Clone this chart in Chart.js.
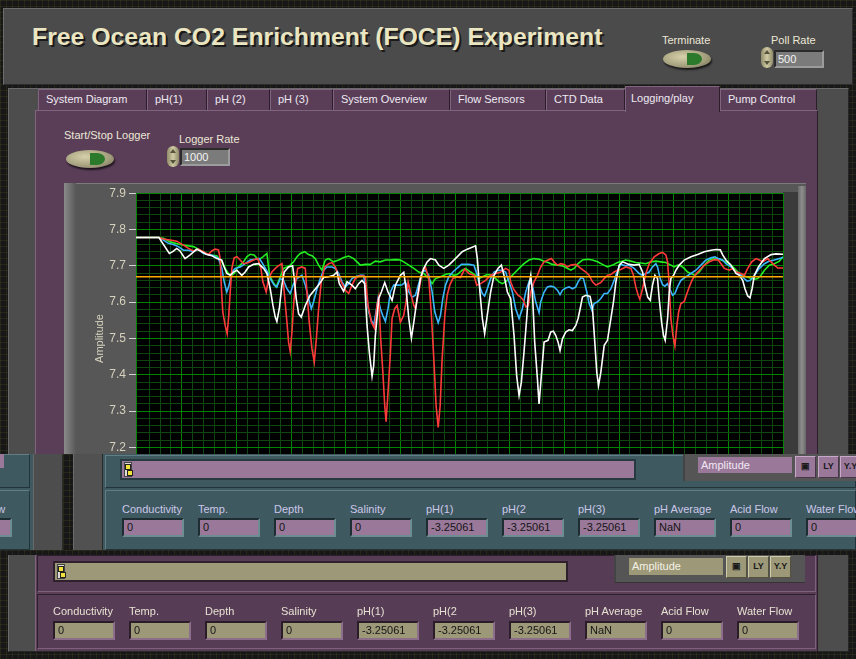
<!DOCTYPE html>
<html><head><meta charset="utf-8">
<script src="https://cdn.jsdelivr.net/npm/chart.js@4.4.0/dist/chart.umd.min.js"></script>
<style>
html,body{margin:0;padding:0;}
body{width:856px;height:659px;position:relative;overflow:hidden;background-color:#171717;
 background-image:linear-gradient(rgba(90,90,40,0.22) 1px,transparent 1px),linear-gradient(90deg,rgba(90,90,40,0.22) 1px,transparent 1px);
 background-size:6px 6px;font-family:"Liberation Sans",Arial,sans-serif;}
.a{position:absolute;box-sizing:border-box;}
.dk{position:absolute;box-sizing:border-box;background-color:#171717;
 background-image:linear-gradient(rgba(90,90,40,0.22) 1px,transparent 1px),linear-gradient(90deg,rgba(90,90,40,0.22) 1px,transparent 1px);background-size:6px 6px;}
.lbl{position:absolute;font-size:11px;line-height:13px;white-space:nowrap;}
.tab{position:absolute;box-sizing:border-box;top:89px;height:21px;background:#5a3e58;border-top:1px solid #80637e;border-left:1px solid #80637e;border-right:1px solid #2c1d2b;color:#eeeaf2;font-size:11px;line-height:19px;padding-left:7px;white-space:nowrap;}
.btn{position:absolute;width:48px;height:18px;border-radius:50%;background:radial-gradient(ellipse at 40% 38%,#d6d1aa,#a29d7b 60%,#66634a);box-shadow:1px 2px 2px rgba(0,0,0,.7);}
.btn i{position:absolute;left:24px;top:3px;width:15px;height:12px;border-radius:0 8px 8px 0/0 6px 6px 0;background:#2b7a2b;}
.spin{position:absolute;width:12px;height:21px;border-radius:6px;background:linear-gradient(90deg,#8f8a68,#d0cba4 50%,#8f8a68);}
.spin:before{content:"";position:absolute;left:3px;top:3px;border-left:3px solid transparent;border-right:3px solid transparent;border-bottom:4px solid #55523c;}
.spin:after{content:"";position:absolute;left:3px;bottom:3px;border-left:3px solid transparent;border-right:3px solid transparent;border-top:4px solid #55523c;}
.num{position:absolute;box-sizing:border-box;height:18px;background:#7b7b7b;border:2px solid;border-color:#2a2a2a #9c9c9c #9c9c9c #2a2a2a;color:#f3f3f3;font-size:11px;line-height:14px;padding-left:2px;}
.tf{position:absolute;box-sizing:border-box;height:19px;width:62px;background:#9a789a;border:2px solid;border-color:#1e2d31 #6d8d93 #6d8d93 #1e2d31;color:#151515;font-size:11px;line-height:15px;padding-left:3px;white-space:nowrap;overflow:hidden;}
.of{position:absolute;box-sizing:border-box;height:19px;width:62px;background:#9c9878;border:2px solid;border-color:#2a1c29 #8c6e8a #8c6e8a #2a1c29;color:#151515;font-size:11px;line-height:15px;padding-left:3px;white-space:nowrap;overflow:hidden;}
.tbox{position:absolute;box-sizing:border-box;background:#3e5a60;border:1px solid;border-color:#607e84 #22343a #22343a #607e84;}
.pbox{position:absolute;box-sizing:border-box;background:#573c55;border:1px solid;border-color:#2e1f2d #7e617c #7e617c #2e1f2d;}
.ico{position:absolute;box-sizing:border-box;width:21px;height:22px;border:1px solid;font-size:9px;font-weight:bold;line-height:18px;text-align:center;color:#1a1a1a;}
.thumb{position:absolute;width:8px;height:15px;background:#dcdcd2;border:1px solid #444;box-sizing:border-box;}
.thumb:before{content:"";position:absolute;left:0;top:1px;width:4px;height:4px;border:1px solid #222;background:#f2e23a;}
.thumb:after{content:"";position:absolute;left:2px;top:7px;width:4px;height:4px;border:1px solid #222;background:#f2e23a;}
</style></head>
<body>
<!-- header -->
<div class="a" style="left:3px;top:8px;width:850px;height:77px;background:#4b4b4b;border:1px solid;border-color:#6c6c6c #2c2c2c #2c2c2c #6c6c6c"></div>
<div class="a" style="left:32px;top:24px;font-weight:bold;font-size:24.8px;line-height:25px;color:#ebe6c2;text-shadow:2px 2px 0 #1a1a1a;white-space:nowrap">Free Ocean CO2 Enrichment (FOCE) Experiment</div>
<div class="lbl" style="left:662px;top:34px;color:#ebe7d5">Terminate</div>
<div class="btn" style="left:663px;top:50px"><i></i></div>
<div class="lbl" style="left:771px;top:34px;color:#ebe7d5">Poll Rate</div>
<div class="spin" style="left:761px;top:47px"></div>
<div class="num" style="left:774px;top:50px;width:50px">500</div>

<!-- tab control -->
<div class="a" style="left:8px;top:88px;width:841px;height:564px;background:#4d4d4d;border:1px solid;border-color:#6a6a6a #262626 #262626 #6a6a6a"></div>
<div id="tabs"></div>
<div class="a" style="left:35px;top:110px;width:783px;height:541px;background:#5a3e58;border-left:1px solid #80637e;border-top:1px solid #80637e;border-right:1px solid #2c1d2b"></div>
<div class="a" style="left:625px;top:86px;width:95px;height:26px;background:#5a3e58;border-top:1px solid #80637e;border-left:1px solid #80637e;border-right:1px solid #2c1d2b;color:#eeeaf2;font-size:11px;line-height:22px;padding-left:5px;white-space:nowrap">Logging/play</div>

<div class="lbl" style="left:64px;top:129px;color:#ebe7d5">Start/Stop Logger</div>
<div class="btn" style="left:66px;top:150px"><i></i></div>
<div class="lbl" style="left:179px;top:133px;color:#ebe7d5">Logger Rate</div>
<div class="spin" style="left:167px;top:146px"></div>
<div class="num" style="left:180px;top:148px;width:50px">1000</div>

<!-- graph frame -->
<div class="a" style="left:64px;top:183px;width:742px;height:315px;background:#575757;border-top:1px solid #7a7a7a"></div>
<div class="a" style="left:64px;top:183px;width:12px;height:315px;background:linear-gradient(90deg,#8a8a8a,#575757)"></div>
<div class="a" style="left:783px;top:192px;width:15px;height:305px;background:#3b3b3b"></div>
<div class="a" style="left:798px;top:186px;width:8px;height:311px;background:linear-gradient(90deg,#6a6a6a,#8e8e8e,#666)"></div>
<div class="a" style="left:64px;top:183px;width:720px;height:311px"><canvas id="c" width="720" height="311" style="width:720px;height:311px"></canvas></div>

<!-- overlapping copy (teal) -->
<div class="a" style="left:0;top:454px;width:33px;height:96px;background:#3e5a60;overflow:hidden">
  <div class="tbox" style="left:-40px;top:0;width:70px;height:34px"></div>
  <div class="a" style="left:0;top:0;width:4px;height:14px;background:#9a789a"></div>
  <div class="tbox" style="left:-40px;top:36px;width:70px;height:60px"></div>
  <div class="lbl" style="left:-50px;top:49px;color:#cdc6ea">Water Flow</div>
  <div class="tf" style="left:-50px;top:64px">0</div>
</div>
<div class="a" style="left:33px;top:454px;width:30px;height:96px;background:#4d4d4d;border-left:1px solid #6a6a6a;border-right:1px solid #2a2a2a"></div>
<div class="dk" style="left:63px;top:454px;width:10px;height:96px"></div>
<div class="a" style="left:73px;top:454px;width:30px;height:96px;background:#515151;border-left:1px solid #6a6a6a;border-right:1px solid #2a2a2a"></div>
<div class="a" style="left:103px;top:454px;width:753px;height:96px;background:#3e5a60"></div>
<div class="tbox" style="left:105px;top:455px;width:751px;height:33px"></div>
<div class="a" style="left:120px;top:459px;width:516px;height:21px;background:#263a3f"></div>
<div class="a" style="left:122px;top:461px;width:512px;height:17px;background:#9a789a"></div>
<div class="thumb" style="left:124px;top:462px"></div>
<div class="a" style="left:683px;top:454px;width:173px;height:27px;background:#555;border-left:2px solid #444"></div>
<div class="a" style="left:698px;top:457px;width:94px;height:16px;background:#9a789a;color:#f0e8f2;font-size:11px;line-height:16px;padding-left:3px">Amplitude</div>
<div class="ico" style="left:795px;top:456px;background:#9a789a;border-color:#c8a8c8 #4a344a #4a344a #c8a8c8">&#9635;</div>
<div class="ico" style="left:818px;top:456px;background:#9a789a;border-color:#c8a8c8 #4a344a #4a344a #c8a8c8">LY</div>
<div class="ico" style="left:840px;top:456px;background:#9a789a;border-color:#c8a8c8 #4a344a #4a344a #c8a8c8">Y.Y</div>
<div class="tbox" style="left:105px;top:490px;width:751px;height:60px"></div>
<div id="rowTop"></div>

<!-- dark gap -->
<div class="dk" style="left:0;top:550px;width:856px;height:5px"></div>

<!-- original bottom -->
<div class="pbox" style="left:37px;top:555px;width:779px;height:37px"></div>
<div class="a" style="left:53px;top:561px;width:515px;height:21px;background:#2e202d"></div>
<div class="a" style="left:55px;top:563px;width:511px;height:17px;background:#9c9878"></div>
<div class="thumb" style="left:57px;top:564px"></div>
<div class="a" style="left:614px;top:555px;width:191px;height:28px;background:#555;border-left:2px solid #444;border-bottom:1px solid #333"></div>
<div class="a" style="left:629px;top:558px;width:94px;height:17px;background:#9c9878;color:#f4f2e6;font-size:11px;line-height:17px;padding-left:3px">Amplitude</div>
<div class="ico" style="left:726px;top:556px;background:#9c9878;border-color:#cfcbaa #55523c #55523c #cfcbaa">&#9635;</div>
<div class="ico" style="left:748px;top:556px;background:#9c9878;border-color:#cfcbaa #55523c #55523c #cfcbaa">LY</div>
<div class="ico" style="left:770px;top:556px;background:#9c9878;border-color:#cfcbaa #55523c #55523c #cfcbaa">Y.Y</div>
<div class="pbox" style="left:37px;top:594px;width:779px;height:55px"></div>
<div id="rowBot"></div>

<script>
// ---------- chart data ----------
const whiteX = [8,29,38.5,41.6,45.3,48.3,52.9,57.5,63.6,68.2,
 72.8,77.3,81.9,86.5,88.7,91.1,94.2,97.2,100.3,104.8,
 107.9,111,115.5,120.1,124.7,127.8,130.8,133.3,135.4,136.9,
 139.1,141.5,143.6,147.6,151.3,152.8,154.6,156.8,159.2,162.9,
 167.4,175.1,179.7,184.3,188.8,191.9,194,198,201.1,205.6,
 208.7,211.7,214.8,217.2,219.4,221.5,224,225.5,227,230.1,
 232.5,235.6,238.6,242.3,245.4,249.9,253,255.1,257.6,260,
 262.2,265.2,268.3,271.3,274.4,277.4,282,285.1,289.6,294.2,
 300.3,306.5,311.1,318.7,320.3,322.7,324.9,327,329.4,332.5,
 335.6,339.2,342.3,344.7,347.8,350.8,353.9,356.3,358.5,360.6,
 363,365.5,367.6,369.2,370.7,372.8,375.3,376.8,378.9,381.4,
 385,387.5,389.9,392.1,394.2,396,398.2,401.2,404.3,407.3,
 410.4,412.5,414.4,416.5,419.6,423.5,425.7,427.8,429.6,431.2,
 433.3,436.4,439.4,442.5,444.9,447.1,450.1,453.2,459.2,463.8,
 468.4,471.5,473.6,476.2,478.5,480.6,482.8,485.2,486.7,488.9,
 490.7,492.2,494.4,495.9,497.4,499.9,502,505.1,509.6,515.8,
 521.9,528,534.1,538.7,542.6,544.8,547.8,552.4,557,560.1,
 563.1,565.2,567.7,569.8,571.7,573.8,577.5,583,589.1,593.7,
 600];
const whiteY = [7.778,7.778,7.734,7.739,7.748,7.741,7.720,7.730,7.746,7.739,
 7.731,7.728,7.720,7.716,7.697,7.679,7.674,7.683,7.688,7.674,
 7.683,7.697,7.704,7.706,7.693,7.679,7.637,7.591,7.559,7.547,
 7.582,7.647,7.683,7.697,7.700,7.665,7.610,7.568,7.559,7.591,
 7.619,7.647,7.668,7.670,7.674,7.683,7.651,7.630,7.656,7.647,
 7.637,7.651,7.660,7.651,7.536,7.462,7.396,7.426,7.508,7.610,
 7.628,7.654,7.628,7.605,7.647,7.674,7.682,7.637,7.555,7.501,
 7.545,7.610,7.665,7.693,7.711,7.720,7.716,7.702,7.693,7.702,
 7.720,7.739,7.746,7.755,7.720,7.628,7.555,7.513,7.564,7.628,
 7.674,7.693,7.702,7.674,7.628,7.610,7.508,7.398,7.343,7.380,
 7.462,7.555,7.647,7.674,7.628,7.490,7.389,7.320,7.398,7.490,
 7.495,7.518,7.520,7.508,7.490,7.467,7.499,7.518,7.524,7.522,
 7.536,7.555,7.582,7.614,7.619,7.616,7.582,7.490,7.407,7.370,
 7.407,7.481,7.495,7.555,7.601,7.656,7.702,7.711,7.704,7.702,
 7.704,7.683,7.647,7.614,7.605,7.647,7.674,7.665,7.610,7.545,
 7.508,7.495,7.555,7.628,7.665,7.674,7.688,7.702,7.716,7.725,
 7.731,7.739,7.743,7.745,7.744,7.730,7.716,7.702,7.679,7.674,
 7.660,7.637,7.617,7.612,7.637,7.674,7.697,7.720,7.731,7.733,
 7.732];

const redX = [8,29,33.1,39.2,45.3,51.4,56,60.5,65.1,69.7,
 74.3,77.3,80.4,83.5,85,86.2,87.4,89.6,91.4,92.9,
 94.2,95.7,97.8,100.3,103.3,106.4,111,115.5,119.5,122.3,
 124.1,127.1,129.3,132.3,136.9,141.5,143.6,146.1,147.6,149.1,
 150.7,152.2,153.7,155.9,159.8,162.9,164.4,166.5,169,171.1,
 173,175.1,177.5,180.6,184.3,187.3,190.4,193.4,196.5,199.5,
 202.6,205.6,208.7,211.7,216.3,217.9,220.3,223.4,226.4,228.5,
 230.1,231.9,233.7,235.6,236.8,238.6,240.8,242.3,244.7,246.9,
 249.9,253,255.1,257,259.1,262.2,263.7,266.7,269.8,272.8,
 275.9,278.3,280.5,282.6,284.5,286.3,288.1,290.6,292.7,295.1,
 297.9,301.9,304.9,308.7,312.6,317.2,319.7,323.3,327.9,332.5,
 337.1,341.7,346.2,349.3,350.8,353.3,355.4,357.5,360,362.4,
 364.6,367,369.2,372.2,375.3,378.3,381.4,385,388.1,390.5,
 393.6,396.7,399.7,402.8,405.8,410.4,415,419.6,422.6,425.7,
 428.7,433.3,436.4,439.4,442.5,445.5,448.6,451.6,456.2,460.8,
 463.2,465.3,467.5,469,471.5,474.5,477.6,482.2,486.7,489.8,
 492.8,494.4,495.9,497.4,499.3,501.1,502.9,504.5,506.6,509.6,
 512.1,514.2,516.7,519.4,523.4,528,532.6,537.1,540.8,543.3,
 546.3,550.9,553.9,557,561.6,564.6,567.7,571.4,575.3,578.4,
 581.4,586,590.6,595.2,600];
const redY = [7.778,7.778,7.774,7.771,7.768,7.757,7.748,7.741,7.746,7.739,
 7.731,7.741,7.746,7.744,7.720,7.637,7.573,7.536,7.513,7.564,
 7.628,7.693,7.722,7.725,7.716,7.706,7.709,7.716,7.720,7.693,
 7.656,7.628,7.665,7.683,7.697,7.706,7.628,7.545,7.490,7.464,
 7.518,7.591,7.647,7.693,7.697,7.693,7.628,7.545,7.472,7.435,
 7.499,7.582,7.656,7.697,7.706,7.709,7.697,7.670,7.651,7.633,
 7.624,7.647,7.665,7.672,7.672,7.670,7.591,7.545,7.527,7.591,
 7.614,7.499,7.416,7.315,7.271,7.352,7.462,7.555,7.582,7.591,
 7.545,7.564,7.601,7.656,7.628,7.591,7.582,7.628,7.683,7.697,
 7.665,7.564,7.444,7.315,7.255,7.315,7.444,7.564,7.619,7.647,
 7.665,7.670,7.668,7.691,7.679,7.674,7.647,7.651,7.660,7.674,
 7.679,7.683,7.693,7.688,7.656,7.637,7.628,7.619,7.614,7.605,
 7.587,7.591,7.628,7.656,7.674,7.697,7.711,7.716,7.720,7.711,
 7.702,7.706,7.704,7.697,7.702,7.704,7.693,7.683,7.674,7.656,
 7.647,7.654,7.665,7.674,7.676,7.683,7.688,7.690,7.697,7.693,
 7.674,7.642,7.619,7.608,7.637,7.679,7.706,7.725,7.734,7.737,
 7.730,7.711,7.647,7.555,7.508,7.479,7.536,7.573,7.596,7.601,
 7.624,7.642,7.660,7.674,7.688,7.702,7.711,7.717,7.716,7.706,
 7.693,7.688,7.693,7.683,7.679,7.674,7.693,7.711,7.720,7.716,
 7.711,7.720,7.706,7.694,7.694];

const blueX = [8,29,33.1,37.6,42.2,46.8,51.4,56,60.5,65.1,
 69.7,74.3,78.9,83.5,86.5,88.7,91.1,93.2,95.7,98.7,
 103.3,107.9,112.5,117.1,121,124.7,128.4,130.8,134.5,136.9,
 140,143,146.1,149.1,152.2,155.3,159.8,162.9,165.9,168.4,
 170.5,173.6,176.6,179.7,182.7,187.3,190.4,193.4,196.5,199.5,
 202.6,205.6,208.7,213.3,216.3,218.5,220.9,223.4,225.5,227.6,
 229.5,231.6,233.7,236.2,238.6,240.8,243.8,248.4,251.5,254.5,
 257.6,260.6,263.7,266.7,269.8,272.8,275.9,279,281.4,284.5,
 286.6,288.7,291.2,294.2,297.9,301.9,305.8,312.6,317.2,320.3,
 322.7,324.9,327,329.4,332.5,335.6,339.2,343.2,346.2,349.3,
 352.4,355.4,358.5,361.5,364.6,367.6,370.7,373.7,376.8,378.3,
 381.4,384.4,387.5,390.5,393.6,396,398.2,401.2,404.3,407.3,
 410.4,412.5,415,417.4,420.5,422.6,425.1,427.2,430.3,433.3,
 436.4,439.4,442.5,445.5,448.6,451.6,456.2,459.2,463.8,468.4,
 471.5,474.5,477.6,480.6,483.7,485.2,487.6,489.8,491.9,494.4,
 496.8,499,501.1,503.5,506.6,511.2,515.8,520.3,524.9,529.5,
 534.1,537.8,540.8,544.8,547.8,552.4,557,561.6,564.6,567.1,
 570.1,573.8,578.4,583,587.5,592.1,596.7,600];
const blueY = [7.778,7.778,7.771,7.762,7.759,7.753,7.743,7.743,7.739,7.746,
 7.734,7.731,7.728,7.720,7.693,7.656,7.628,7.647,7.683,7.693,
 7.697,7.706,7.716,7.718,7.720,7.702,7.683,7.665,7.647,7.642,
 7.665,7.660,7.637,7.624,7.651,7.665,7.674,7.647,7.610,7.582,
 7.601,7.637,7.665,7.688,7.697,7.697,7.693,7.679,7.656,7.642,
 7.651,7.665,7.670,7.674,7.674,7.628,7.573,7.550,7.536,7.573,
 7.610,7.582,7.564,7.547,7.582,7.628,7.647,7.647,7.648,7.656,
 7.628,7.614,7.619,7.651,7.683,7.688,7.674,7.628,7.573,7.543,
 7.564,7.610,7.647,7.670,7.683,7.694,7.704,7.704,7.702,7.674,
 7.642,7.624,7.617,7.637,7.665,7.683,7.688,7.688,7.683,7.656,
 7.628,7.582,7.555,7.582,7.628,7.656,7.647,7.601,7.571,7.601,
 7.628,7.642,7.644,7.642,7.633,7.621,7.633,7.639,7.642,7.637,
 7.642,7.656,7.667,7.665,7.628,7.596,7.578,7.596,7.601,7.610,
 7.624,7.624,7.637,7.660,7.688,7.704,7.700,7.702,7.693,7.679,
 7.674,7.679,7.683,7.697,7.706,7.697,7.665,7.648,7.644,7.651,
 7.633,7.619,7.624,7.642,7.660,7.670,7.679,7.688,7.702,7.716,
 7.722,7.725,7.720,7.716,7.706,7.697,7.683,7.674,7.665,7.658,
 7.660,7.674,7.693,7.706,7.713,7.716,7.720,7.723];

const greenX = [8,29,33.1,39.2,48.3,56,60.5,65.1,69.7,75.8,
 81.9,86.5,89.6,92.6,95.7,97.8,100.3,103.3,106.4,109.4,
 112.5,116.1,120.1,124.1,127.8,130.2,133.3,136.3,139.4,143,
 146.1,149.1,152.2,155.3,158.3,162.3,165.9,169,172,175.1,
 178.1,181.2,184.3,188.8,193.4,198,202.6,207.2,210.2,213.3,
 217.9,222.4,227,231.6,236.2,240.8,245.4,249.9,253,257.6,
 262.2,266.7,271.3,275.9,279,282,286.6,291.2,294.8,298.8,
 301.9,306.5,309.6,314.2,318.7,321.8,324.9,329.4,334,337.1,
 340.1,343.2,346.2,349.3,353.9,358.5,363,367.6,372.2,376.8,
 381.4,385,389,393.6,398.2,402.1,405.8,408.9,412.5,416.5,
 421.1,425.7,430.3,434.8,439.4,444,448.6,453.2,456.2,460.8,
 465.3,469.9,474.5,479.1,483.7,488.3,492.8,497.4,500.5,503.5,
 506.6,509.6,512.7,515.8,519.4,523.4,528,532.6,537.1,541.7,
 546.3,550.9,555.5,560.1,564.6,569.2,573.8,576.9,579.9,583,
 587.5,592.1,596.7,600];
const greenY = [7.778,7.778,7.776,7.766,7.759,7.755,7.753,7.746,7.737,7.730,
 7.728,7.711,7.693,7.679,7.674,7.679,7.693,7.702,7.711,7.725,
 7.732,7.730,7.716,7.725,7.734,7.674,7.656,7.642,7.665,7.693,
 7.697,7.702,7.711,7.725,7.734,7.739,7.731,7.728,7.720,7.702,
 7.688,7.716,7.720,7.711,7.716,7.723,7.727,7.720,7.711,7.702,
 7.704,7.704,7.713,7.711,7.716,7.716,7.717,7.716,7.711,7.702,
 7.693,7.683,7.679,7.665,7.651,7.665,7.670,7.676,7.679,7.674,
 7.676,7.688,7.693,7.683,7.674,7.665,7.670,7.676,7.674,7.665,
 7.656,7.651,7.656,7.665,7.679,7.693,7.706,7.716,7.720,7.718,
 7.713,7.709,7.704,7.702,7.700,7.694,7.688,7.693,7.706,7.716,
 7.718,7.716,7.711,7.704,7.697,7.702,7.709,7.713,7.716,7.713,
 7.709,7.708,7.706,7.711,7.713,7.711,7.709,7.702,7.697,7.702,
 7.700,7.693,7.683,7.679,7.674,7.683,7.702,7.716,7.720,7.718,
 7.713,7.706,7.693,7.679,7.672,7.667,7.663,7.665,7.674,7.688,
 7.702,7.706,7.713,7.725];

const orangeX = [8, 600];
const orangeY = [7.670, 7.670];

const yMajorLabels = ['7.1','7.2','7.3','7.4','7.5','7.6','7.7','7.8','7.9'];
const X_MIN = 8, X_MAX = 600, X_GRID_START = 20, X_GRID_STEP = 10, X_MAJOR_STEP = 50;
const Y_MIN = 7.1, Y_MAX = 7.9, Y_STEP = 0.02;

// ---------- indicator panels ----------
const tabLabels = ['System Diagram','pH(1)','pH (2)','pH (3)','System Overview','Flow Sensors','CTD Data','Logging/play','Pump Control'];
const tabEdges = [[38,147],[147,207],[207,270],[270,333],[333,450],[450,546],[546,625],[625,720],[720,817]];
const indLabels = ['Conductivity','Temp.','Depth','Salinity','pH(1)','pH(2','pH(3)','pH Average','Acid Flow','Water Flow'];
const indValues = ['0','0','0','0','-3.25061','-3.25061','-3.25061','NaN','0','0'];

const tabsEl = document.getElementById('tabs');
tabLabels.forEach((t, i) => {
  if (i === 7) return;
  const d = document.createElement('div');
  d.className = 'tab';
  d.style.left = tabEdges[i][0] + 'px';
  d.style.width = (tabEdges[i][1] - tabEdges[i][0]) + 'px';
  d.textContent = t;
  tabsEl.appendChild(d);
});
function buildRow(el, x0, labelTop, fieldTop, labColor, cls) {
  indLabels.forEach((t, i) => {
    const x = x0 + i * 76;
    const l = document.createElement('div');
    l.className = 'lbl'; l.style.left = x + 'px'; l.style.top = labelTop + 'px'; l.style.color = labColor;
    l.textContent = t; el.appendChild(l);
    const f = document.createElement('div');
    f.className = cls; f.style.left = x + 'px'; f.style.top = fieldTop + 'px';
    f.textContent = indValues[i]; el.appendChild(f);
  });
}
buildRow(document.getElementById('rowTop'), 122, 503, 518, '#cdc6ea', 'tf');
buildRow(document.getElementById('rowBot'), 53, 605, 621, '#e6e2d2', 'of');

// ---------- chart ----------
const GRID_MINOR = 'rgb(16,70,16)';
const GRID_MAJOR = 'rgb(0,132,0)';
const isMajorY = v => Math.abs(v * 10 - Math.round(v * 10)) < 1e-6;
const pts = (xs, ys) => xs.map((x, i) => ({x: x, y: ys[i]}));
const xGridValues = [];
for (let v = X_GRID_START; v <= X_MAX; v += X_GRID_STEP) xGridValues.push(v);

const bgPlugin = {
  id: 'plotBg',
  beforeDraw(chart) {
    const {ctx, chartArea: a} = chart;
    ctx.save();
    ctx.fillStyle = '#000000';
    ctx.fillRect(a.left, a.top, a.right - a.left, a.bottom - a.top);
    ctx.restore();
  }
};

new Chart(document.getElementById('c'), {
  type: 'line',
  data: {
    datasets: [
      {label: 'Setpoint', data: pts(orangeX, orangeY), borderColor: '#ffaa00', order: 0},
      {label: 'pH A', data: pts(whiteX, whiteY), borderColor: '#ffffff', order: 1},
      {label: 'pH B', data: pts(redX, redY), borderColor: '#ff3a3a', order: 2},
      {label: 'pH C', data: pts(blueX, blueY), borderColor: '#3cb4ff', order: 3},
      {label: 'pH D', data: pts(greenX, greenY), borderColor: '#22ee22', order: 4}
    ]
  },
  options: {
    responsive: false,
    animation: false,
    layout: {padding: {top: 10, right: 1, bottom: 0, left: 0}},
    plugins: {legend: {display: false}, tooltip: {enabled: false}},
    elements: {point: {radius: 0}, line: {borderWidth: 1.6, tension: 0}},
    scales: {
      x: {
        type: 'linear', min: X_MIN, max: X_MAX,
        afterBuildTicks: s => { s.ticks = xGridValues.map(v => ({value: v})); },
        afterFit: s => { s.height = 0; },
        ticks: {display: false, autoSkip: false},
        grid: {drawTicks: false, lineWidth: 1,
          color: c => (c.tick && c.tick.value % X_MAJOR_STEP === 0) ? GRID_MAJOR : GRID_MINOR},
        border: {display: false}
      },
      y: {
        min: Y_MIN, max: Y_MAX,
        afterFit: s => { s.width = 72; },
        ticks: {stepSize: Y_STEP, autoSkip: false, padding: 3, color: '#d6d2be',
          font: {family: 'Liberation Sans', size: 12},
          callback: v => isMajorY(v) ? yMajorLabels[Math.round((v - Y_MIN) * 10)] : ''},
        grid: {lineWidth: 1, tickLength: 7,
          color: c => (c.tick && isMajorY(c.tick.value)) ? GRID_MAJOR : GRID_MINOR,
          tickColor: c => (c.tick && isMajorY(c.tick.value)) ? '#d0d0d0' : 'rgba(0,0,0,0)'},
        border: {display: true, color: GRID_MAJOR},
        title: {display: true, text: 'Amplitude', color: '#d6d2be',
          font: {family: 'Liberation Sans', size: 11}, padding: {top: 29, bottom: 0}}
      }
    }
  },
  plugins: [bgPlugin]
});
</script>
</body></html>
